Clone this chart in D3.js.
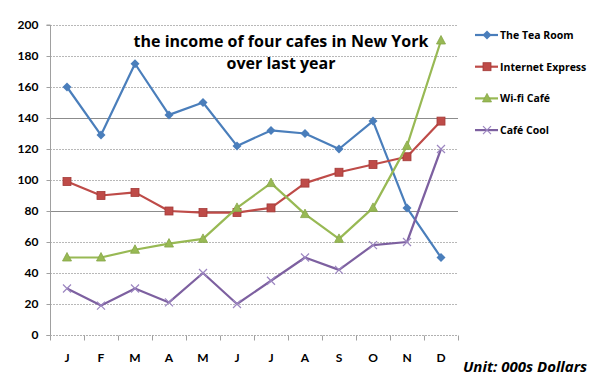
<!DOCTYPE html>
<html><head><meta charset="utf-8">
<script src="https://cdn.jsdelivr.net/npm/d3@7"></script>
<style>body{margin:0;background:#fff}svg{display:block}</style>
</head><body>
<svg id="c" width="602" height="386"></svg>
<script>
const months = ["J","F","M","A","M","J","J","A","S","O","N","D"];
const seriesNames = ["The Tea Room","Internet Express","Wi-fi Café","Café Cool"];
const teaRoom = [160,129,175,142,150,122,132,130,120,138,82,50];
const internetExpress = [99,90,92,80,79,79,82,98,105,110,115,138];
const wifiCafe = [50,50,55,59,62,82,98,78,62,82,122,190];
const cafeCool = [30,19,30,21,40,20,35,50,42,58,60,120];
const yTicks = [0,20,40,60,80,100,120,140,160,180,200];
const colors = ["#4a7ebb","#be4b48","#98b954","#7d60a0"];
const allSeries = [teaRoom, internetExpress, wifiCafe, cafeCool];

const svg = d3.select("#c");
const L=50,R=458,T=25,B=335;
const x = d3.scaleBand().domain(d3.range(12)).range([L,R]);
const y = d3.scaleLinear().domain([0,200]).range([B,T]);
const cx = i => x(i)+x.bandwidth()/2;

// gridlines
svg.append("g").selectAll("line").data(yTicks.filter(d=>d>0)).join("line")
  .attr("x1",L).attr("x2",R).attr("y1",d=>y(d)+0.5).attr("y2",d=>y(d)+0.5)
  .attr("stroke",d=>(d===80||d===140)?"#8c8c8c":"#b8b8b8").attr("stroke-width",1)
  .attr("stroke-dasharray",d=>(d===80||d===140)?null:"2,1");

// y axis
const ya = svg.append("g").attr("transform",`translate(${L+0.5},0)`)
  .call(d3.axisLeft(y).tickValues(yTicks).tickSize(4).tickPadding(8));
ya.select(".domain").attr("stroke","#a0a0a0").attr("d",`M-4,${B}.5H0V${T}H-4`);
ya.selectAll(".tick line").attr("stroke","#a0a0a0");
ya.selectAll("text").attr("font-family","Lato, 'Open Sans', sans-serif").attr("font-weight","bold").attr("font-size","12px").attr("fill","#000");

// x axis
const xa = svg.append("g").attr("transform",`translate(0,${B+0.5})`);
xa.append("line").attr("x1",L).attr("x2",R).attr("stroke","#b0b0b0").attr("stroke-dasharray","2,1");
xa.selectAll("line.t").data(d3.range(13)).join("line").attr("class","t")
  .attr("x1",i=>L+i*x.bandwidth()+0.5).attr("x2",i=>L+i*x.bandwidth()+0.5)
  .attr("y1",0).attr("y2",5).attr("stroke","#a0a0a0");
xa.selectAll("text").data(months).join("text")
  .attr("x",(d,i)=>cx(i)).attr("y",26).attr("text-anchor","middle")
  .attr("font-family","Lato, 'Open Sans', sans-serif").attr("font-weight","bold").attr("font-size","12px")
  .text(d=>d);

// lines
const line = d3.line().x((d,i)=>cx(i)).y(d=>y(d));
allSeries.forEach((s,k)=>{
  const g = svg.append("g");
  g.append("path").datum(s).attr("d",line).attr("fill","none").attr("stroke",colors[k]).attr("stroke-width",2.2).attr("stroke-linejoin","round");
  drawMarkers(g, s.map((v,i)=>[cx(i),y(v)]), k);
});

function drawMarker(g,px,py,k){
  const c=colors[k];
  if(k===0){
    g.append("path").attr("d",`M${px},${py-4.5}L${px+4.5},${py}L${px},${py+4.5}L${px-4.5},${py}Z`).attr("fill",c);
  } else if(k===1){
    g.append("rect").attr("x",px-4).attr("y",py-4).attr("width",8).attr("height",8).attr("fill",c).attr("stroke","#a33a37").attr("stroke-width",0.8);
  } else if(k===2){
    g.append("path").attr("d",`M${px},${py-5}L${px+4.5},${py+3.5}L${px-4.5},${py+3.5}Z`).attr("fill",c).attr("stroke","#86a648").attr("stroke-width",0.8);
  } else {
    g.append("path").attr("d",`M${px-4},${py-4}L${px+4},${py+4}M${px+4},${py-4}L${px-4},${py+4}`).attr("stroke","#9c86c0").attr("stroke-width",1.2);
  }
}
function drawMarkers(g,pts,k){ pts.forEach(p=>drawMarker(g,p[0],p[1],k)); }

// title
const title = svg.append("text").attr("font-family","'Open Sans', Lato, sans-serif").attr("font-weight","bold").attr("font-size","16px").attr("text-anchor","middle");
title.append("tspan").attr("x",281).attr("y",47).text("the income of four cafes in New York");
title.append("tspan").attr("x",281).attr("y",69).text("over last year");

// legend
const leg = svg.append("g");
seriesNames.forEach((n,k)=>{
  const ly = 35 + k*31.7;
  leg.append("line").attr("x1",475).attr("x2",498).attr("y1",ly).attr("y2",ly).attr("stroke",colors[k]).attr("stroke-width",2.2);
  drawMarker(leg,487,ly,k);
  leg.append("text").attr("x",500).attr("y",ly+4).attr("font-family","'Open Sans', Lato, sans-serif").attr("font-weight","bold").attr("font-size","10.5px").text(n);
});

// unit
svg.append("text").attr("x",463).attr("y",372).attr("font-family","'Open Sans', Lato, sans-serif").attr("font-weight","bold").attr("font-style","italic").attr("font-size","15px").text("Unit: 000s Dollars");
</script>
</body></html>
